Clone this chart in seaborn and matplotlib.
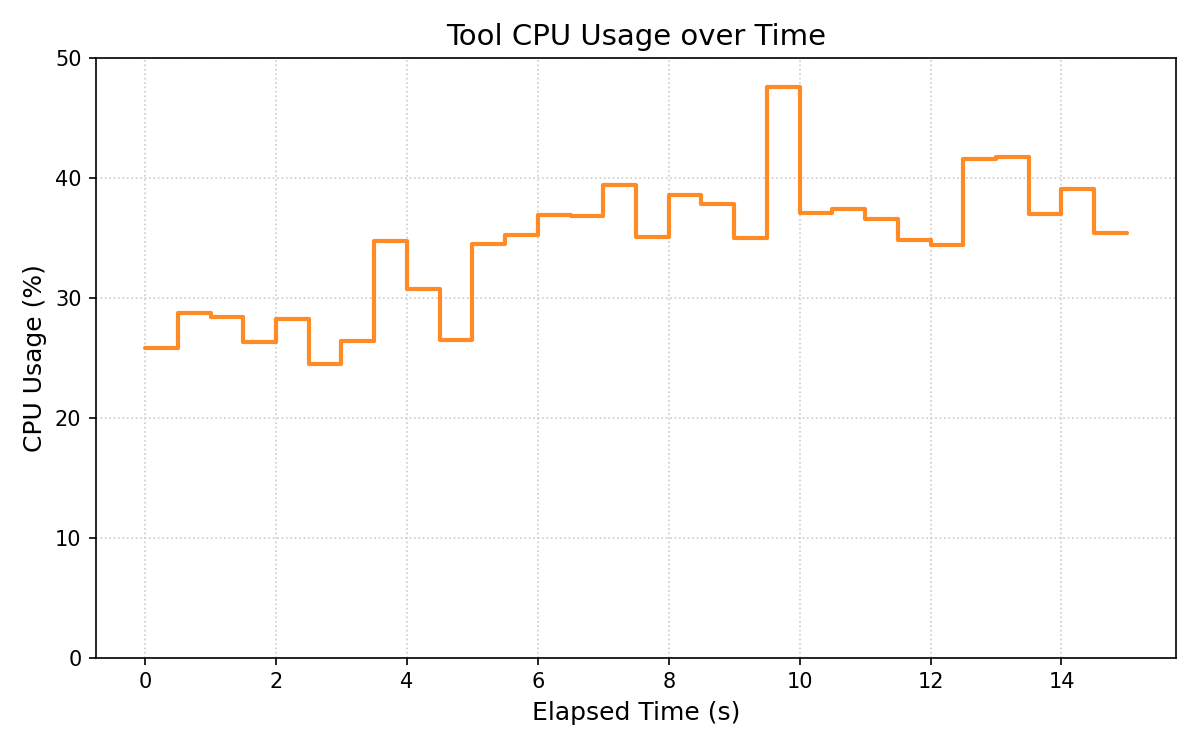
import numpy as np
import pandas as pd
import matplotlib
matplotlib.use("Agg")
import matplotlib.pyplot as plt
import seaborn as sns

elapsed_s = [0, 0.5, 1, 1.5, 2, 2.5, 3, 3.5, 4, 4.5, 5, 5.5, 6, 6.5, 7, 7.5,
             8, 8.5, 9, 9.5, 10, 10.5, 11, 11.5, 12, 12.5, 13, 13.5, 14, 14.5, 15]
cpu_pct = [25.8, 28.7, 28.4, 26.3, 28.2, 24.5, 26.4, 34.7, 30.7, 26.5, 34.5, 35.2,
           36.9, 36.8, 39.4, 35.1, 38.6, 37.8, 35.0, 47.6, 37.1, 37.4, 36.6, 34.8,
           34.4, 41.6, 41.7, 37.0, 39.1, 35.4, 35.4]

sns.set_style("ticks")
plt.rcParams['font.family'] = ['DejaVu Sans']
plt.rcParams.update({
    "text.color": "black", "axes.labelcolor": "black",
    "xtick.color": "black", "ytick.color": "black",
    "axes.edgecolor": "black",
})

df = pd.DataFrame({"t": elapsed_s, "cpu": cpu_pct})
fig, ax = plt.subplots(figsize=(8, 5), dpi=150)
sns.lineplot(data=df, x="t", y="cpu", ax=ax, drawstyle="steps-post",
             color="tab:orange", alpha=0.9, linewidth=2)
ax.set_ylim(0, 50)
ax.set_xlim(-0.75, 15.75)
ax.grid(True, linestyle=":", color="#cccccc", linewidth=0.8)
ax.set_title("Tool CPU Usage over Time", fontsize=14)
ax.set_xlabel("Elapsed Time (s)", fontsize=12)
ax.set_ylabel("CPU Usage (%)", fontsize=12)
ax.tick_params(labelsize=10, length=3.5)
fig.subplots_adjust(left=0.08, right=0.98, top=0.923, bottom=0.123)
fig.savefig("out.png")
